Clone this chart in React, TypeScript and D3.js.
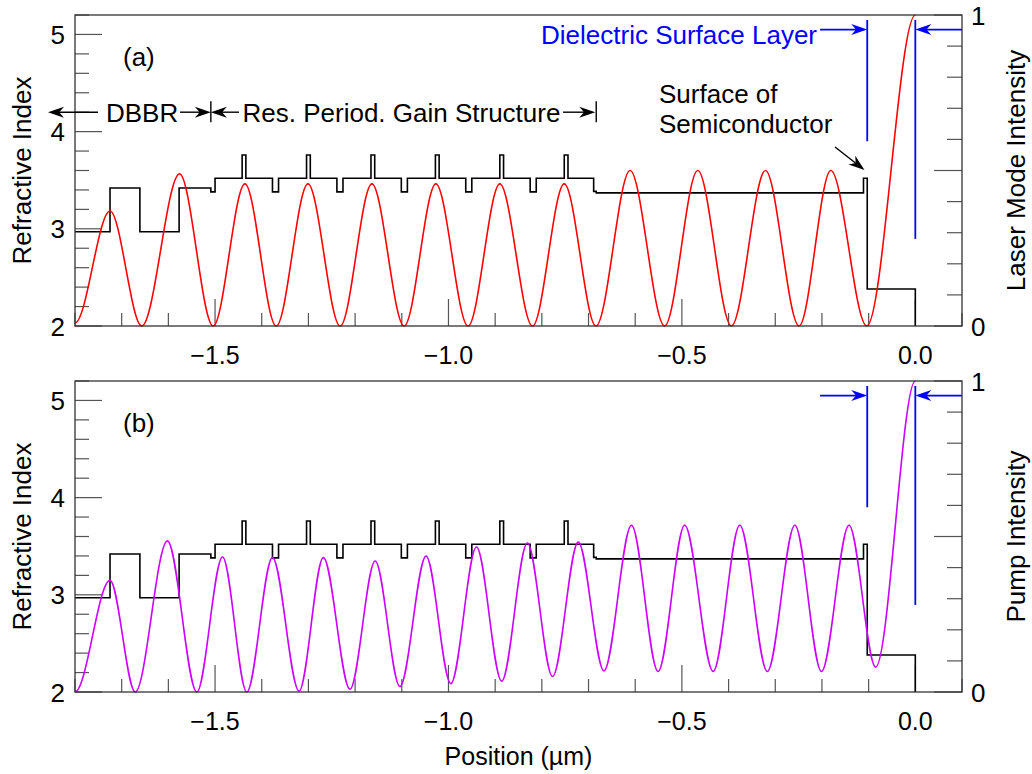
import React from 'react';
import * as d3 from 'd3';

// ---------- data ----------
const xDomain = [-1.8, 0.1];
const nDomain = [2, 5.2];
const iDomain = [0, 1];
const xMajorTicks = [-1.5, -1.0, -0.5, 0.0];
const xTickLabels = ['\u22121.5', '\u22121.0', '\u22120.5', '0.0'];
const nTickLabels = [2, 3, 4, 5];
const iTickLabels = [0, 1];

// refractive index profile (step after)
const stepX = [
  -1.8, -1.725, -1.661, -1.577, -1.509, -1.5,
  -1.442, -1.434, -1.377, -1.364,
  -1.304, -1.296, -1.239, -1.226,
  -1.166, -1.158, -1.101, -1.088,
  -1.028, -1.02, -0.963, -0.95,
  -0.89, -0.882, -0.825, -0.812,
  -0.752, -0.744, -0.689, -0.6835,
  -0.111, -0.103, 0.0, 0.1,
];
const stepN = [
  2.97, 3.42, 2.97, 3.42, 3.38, 3.52,
  3.76, 3.52, 3.38, 3.52,
  3.76, 3.52, 3.38, 3.52,
  3.76, 3.52, 3.38, 3.52,
  3.76, 3.52, 3.38, 3.52,
  3.76, 3.52, 3.38, 3.52,
  3.76, 3.52, 3.385, 3.37,
  3.52, 2.38, 1.0, 1.0,
];

// laser mode intensity extrema (edge points continue the wave outside the view)
const laserX = [-1.87, -1.8, -1.725, -1.657, -1.576, -1.504, -1.436, -1.369, -1.301, -1.232, -1.164, -1.095, -1.027, -0.958, -0.89, -0.82, -0.752, -0.684, -0.611, -0.537, -0.466, -0.394, -0.321, -0.249, -0.181, -0.104, 0.0, 0.05];
const laserI = [0.3, 0.01, 0.37, 0, 0.489, 0, 0.457, 0, 0.457, 0, 0.457, 0, 0.457, 0, 0.457, 0, 0.457, 0, 0.5, 0, 0.5, 0, 0.5, 0, 0.5, 0, 1.0, 0.8];

// pump intensity extrema
const pumpX = [-1.84, -1.8, -1.725, -1.671, -1.602, -1.539, -1.484, -1.432, -1.377, -1.32, -1.268, -1.211, -1.157, -1.104, -1.048, -0.995, -0.94, -0.886, -0.831, -0.777, -0.722, -0.667, -0.608, -0.551, -0.494, -0.433, -0.376, -0.317, -0.258, -0.201, -0.142, -0.085, 0.0, 0.05];
const pumpI = [0.3, 0, 0.359, 0, 0.486, 0, 0.434, 0, 0.432, 0.003, 0.432, 0.009, 0.421, 0.018, 0.437, 0.027, 0.466, 0.035, 0.479, 0.05, 0.482, 0.068, 0.536, 0.066, 0.536, 0.066, 0.536, 0.066, 0.536, 0.066, 0.536, 0.08, 1.0, 0.8];

// annotation anchors
const surfaceX = -0.103;
const dielectricEndX = 0.0;
const dbbrEndX = -1.509;
const gainEndX = -0.6835;

// ---------- layout ----------
const W = 1032, H = 774;
const L = 75, R = 962;
const FONT = "'Liberation Sans', Arial, Helvetica, sans-serif";

const x = d3.scaleLinear().domain(xDomain).range([L, R]);

function arrowHead(tx: number, ty: number, angle: number, color: string, len = 16, half = 5.5) {
  const c = Math.cos(angle), s = Math.sin(angle);
  const pt = (a: number, b: number) => [tx + a * c - b * s, ty + a * s + b * c];
  const p1 = pt(-len, -half), p2 = pt(-len * 0.7, 0), p3 = pt(-len, half);
  return <path d={`M${tx},${ty}L${p1[0]},${p1[1]}L${p2[0]},${p2[1]}L${p3[0]},${p3[1]}Z`} fill={color} stroke="none" />;
}

function Panel({ top, bottom, id, label, curveX, curveI, color, rightTitle, showTop }:
  { top: number; bottom: number; id: string; label: string; curveX: number[]; curveI: number[]; color: string; rightTitle: string; showTop: boolean }) {
  const yN = d3.scaleLinear().domain(nDomain).range([bottom, top]);
  const yI = d3.scaleLinear().domain(iDomain).range([bottom, top]);

  const stepLine = d3.line<number>().x((d, i) => x(stepX[i])).y((d) => yN(d)).curve(d3.curveStepAfter);
  const intLine = d3.line<number>().x((d, i) => x(curveX[i])).y((d) => yI(d)).curve(d3.curveMonotoneX);

  const xMinor = x.ticks(19);
  const nMinor = yN.ticks(16);
  const iMinor = yI.ticks(10);
  const isMult = (v: number, m: number) => Math.abs(v / m - Math.round(v / m)) < 1e-6;
  const tickColor = '#555';
  const blue = '#0000ff';
  const arrowY = yI(0.953);

  return (
    <g>
      <defs>
        <clipPath id={`clipA-${id}`}><rect x={L} y={top - 2} width={R - L} height={bottom - top + 2} /></clipPath>
        <clipPath id={`clipC-${id}`}><rect x={L} y={top - 2} width={x(0) - L} height={bottom - top + 4} /></clipPath>
      </defs>
      {/* ticks */}
      {xMinor.map((v, i) => (
        <line key={`xt${i}`} x1={x(v)} x2={x(v)} y1={bottom} y2={bottom - (isMult(v, 0.5) ? 27 : 13)} stroke={tickColor} strokeWidth={1.2} />
      ))}
      {nMinor.map((v, i) => (
        <line key={`nt${i}`} x1={L} x2={L + (isMult(v, 1) ? 27 : 14)} y1={yN(v)} y2={yN(v)} stroke={tickColor} strokeWidth={1.2} />
      ))}
      {iMinor.map((v, i) => (
        <line key={`it${i}`} x1={R} x2={R - (isMult(v, 0.5) ? 28 : 15)} y1={yI(v)} y2={yI(v)} stroke={tickColor} strokeWidth={1.2} />
      ))}
      {/* tick labels */}
      {xMajorTicks.map((v, i) => (
        <text key={`xl${i}`} x={x(v)} y={bottom + 38} textAnchor="middle" fontSize={25} fontFamily={FONT}>{xTickLabels[i]}</text>
      ))}
      {nTickLabels.map((v) => (
        <text key={`nl${v}`} x={65} y={yN(v) + 9.5} textAnchor="end" fontSize={26} fontFamily={FONT}>{v}</text>
      ))}
      {iTickLabels.map((v) => (
        <text key={`il${v}`} x={971} y={yI(v) + 9.5} textAnchor="start" fontSize={26} fontFamily={FONT}>{v}</text>
      ))}
      {/* axis titles */}
      <text transform={`translate(31,${(top + bottom) / 2}) rotate(-90)`} textAnchor="middle" fontSize={26} fontFamily={FONT}>Refractive Index</text>
      <text transform={`translate(1025,${(top + bottom) / 2}) rotate(-90)`} textAnchor="middle" fontSize={26} fontFamily={FONT}>{rightTitle}</text>
      <text x={123} y={top + 51} fontSize={26} fontFamily={FONT}>{label}</text>

      {/* data */}
      <path d={stepLine(stepN) || ''} fill="none" stroke="#000" strokeWidth={1.6} clipPath={`url(#clipA-${id})`} />
      <path d={intLine(curveI) || ''} fill="none" stroke={color} strokeWidth={1.6} clipPath={`url(#clipC-${id})`} />

      {/* dielectric markers */}
      <line x1={x(surfaceX)} x2={x(surfaceX)} y1={yI(0.984)} y2={yI(0.594)} stroke={blue} strokeWidth={1.8} />
      <line x1={x(dielectricEndX)} x2={x(dielectricEndX)} y1={yI(0.984)} y2={yI(0.28)} stroke={blue} strokeWidth={1.8} />
      <line x1={x(-0.204)} x2={x(surfaceX) - 4} y1={arrowY} y2={arrowY} stroke={blue} strokeWidth={1.6} />
      {arrowHead(x(surfaceX), arrowY, 0, blue)}
      <line x1={R} x2={x(dielectricEndX) + 4} y1={arrowY} y2={arrowY} stroke={blue} strokeWidth={1.6} />
      {arrowHead(x(dielectricEndX), arrowY, Math.PI, blue)}

      {/* frame */}
      <rect x={L} y={top} width={R - L} height={bottom - top} fill="none" stroke="#333" strokeWidth={1.3} />

      {showTop && (
        <g fontFamily={FONT} fontSize={26}>
          <text x={817} y={44} textAnchor="end" fill={blue}>Dielectric Surface Layer</text>
          <text x={659} y={103}>Surface of</text>
          <text x={659} y={133}>Semiconductor</text>
          <line x1={835} y1={147} x2={860} y2={166.5} stroke="#000" strokeWidth={1.4} />
          {arrowHead(864.5, 170, Math.atan2(23, 29.5), '#000', 16, 5.5)}
          {/* DBBR */}
          <line x1={52} x2={98} y1={yN(4.2)} y2={yN(4.2)} stroke="#000" strokeWidth={1.4} />
          {arrowHead(48, yN(4.2), Math.PI, '#000')}
          <text x={106} y={yN(4.2) + 9.5}>DBBR</text>
          <line x1={180} x2={x(dbbrEndX) - 4} y1={yN(4.2)} y2={yN(4.2)} stroke="#000" strokeWidth={1.4} />
          {arrowHead(x(dbbrEndX), yN(4.2), 0, '#000')}
          <line x1={x(dbbrEndX)} x2={x(dbbrEndX)} y1={yN(4.2) - 11} y2={yN(4.2) + 10} stroke="#000" strokeWidth={1.4} />
          {arrowHead(x(dbbrEndX), yN(4.2), Math.PI, '#000')}
          <line x1={x(dbbrEndX) + 4} x2={239} y1={yN(4.2)} y2={yN(4.2)} stroke="#000" strokeWidth={1.4} />
          <text x={242.5} y={yN(4.2) + 9.5}>Res. Period. Gain Structure</text>
          <line x1={563} x2={x(gainEndX) - 4} y1={yN(4.2)} y2={yN(4.2)} stroke="#000" strokeWidth={1.4} />
          {arrowHead(x(gainEndX) - 1, yN(4.2), 0, '#000')}
          <line x1={x(gainEndX)} x2={x(gainEndX)} y1={yN(4.2) - 11} y2={yN(4.2) + 10} stroke="#000" strokeWidth={1.4} />
        </g>
      )}
    </g>
  );
}

export default function App() {
  return (
    <svg width={W} height={H} style={{ position: 'absolute', left: 0, top: 0, background: '#fff' }} xmlns="http://www.w3.org/2000/svg">
      <rect x={0} y={0} width={W} height={H} fill="#fff" />
      <Panel top={15} bottom={326} id="a" label="(a)" curveX={laserX} curveI={laserI} color="#ff0000" rightTitle="Laser Mode Intensity" showTop={true} />
      <Panel top={381} bottom={692} id="b" label="(b)" curveX={pumpX} curveI={pumpI} color="#cc00ff" rightTitle="Pump Intensity" showTop={false} />
      <text x={(L + R) / 2} y={765} textAnchor="middle" fontSize={25} fontFamily={FONT}>Position (µm)</text>
    </svg>
  );
}
